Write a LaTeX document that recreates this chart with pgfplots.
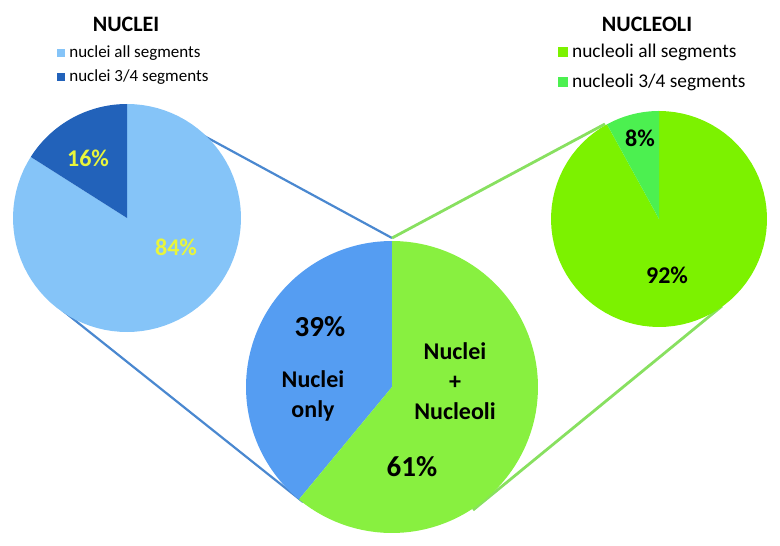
\documentclass[border=0pt]{standalone}
\usepackage{pgfplots}
\pgfplotsset{compat=1.18}
\usepackage{fontspec}
\setmainfont{Carlito}

\definecolor{nucall}{RGB}{133,196,248}
\definecolor{nucpart}{RGB}{34,98,186}
\definecolor{nuconly}{RGB}{85,157,242}
\definecolor{nolall}{RGB}{124,242,0}
\definecolor{nolpart}{RGB}{76,240,80}
\definecolor{both}{RGB}{136,240,64}
\definecolor{pctyellow}{RGB}{232,245,60}
\definecolor{blueline}{RGB}{74,136,208}
\definecolor{greenline}{RGB}{136,224,96}

% one canvas in pixel units, shared by the three overlaid axes
\pgfplotsset{pie canvas/.style={
  width=390pt, height=272.5pt, scale only axis,
  xmin=0, xmax=780, ymin=0, ymax=545, y dir=reverse,
  hide axis, clip=false,
  legend cell align=left,
}}

% \pieslice{cx}{cy}{r}{from %}{to %}{colour}, counter-clockwise from 12 o'clock
\newcommand\pieslice[6]{%
  \addplot[fill=#6, draw=none, domain={90+3.6*#4}:{90+3.6*#5}, samples=80]
    ({#1+#3*cos(x)}, {#2-#3*sin(x)}) -- (axis cs:#1,#2) -- cycle;}

\begin{document}
\begin{tikzpicture}
% left pie: nuclei
\begin{axis}[pie canvas,
  legend image code/.code={\fill[#1] (0pt,-2pt) rectangle (4pt,2pt);},
  legend style={at={(axis description cs:0.073,0.925)}, anchor=north west,
    draw=none, fill=none, inner sep=0pt, row sep=1pt,
    font=\fontsize{8.5}{10}\selectfont}]
  \path (rel axis cs:0,0) rectangle (rel axis cs:1,1);
  \addplot[blueline, line width=1.1pt, forget plot] coordinates {(195,131) (392,238)};
  \addplot[blueline, line width=1.1pt, forget plot] coordinates {(62,310) (303,502)};
  \addplot[greenline, line width=1.4pt, forget plot] coordinates {(392,238) (605,124)};
  \addplot[greenline, line width=1.4pt, forget plot] coordinates {(722,306) (473,510)};
  \pieslice{127}{218}{114}{16}{100}{nucall}
  \addlegendentry{nuclei all segments}
  \pieslice{127}{218}{114}{0}{16}{nucpart}
  \addlegendentry{nuclei 3/4 segments}
  \node[font=\bfseries\fontsize{11}{13}\selectfont] at (axis cs:126,24) {NUCLEI};
  \node[font=\bfseries\fontsize{12}{14}\selectfont, text=pctyellow] at (axis cs:88,158) {16\%};
  \node[font=\bfseries\fontsize{12}{14}\selectfont, text=pctyellow] at (axis cs:176,247) {84\%};
\end{axis}
% right pie: nucleoli
\begin{axis}[pie canvas,
  legend image code/.code={\fill[#1] (0pt,-2.5pt) rectangle (5pt,2.5pt);},
  legend style={at={(axis description cs:0.715,0.927)}, anchor=north west,
    draw=none, fill=none, inner sep=0pt, row sep=2.5pt,
    font=\fontsize{9.7}{11.5}\selectfont}]
  \pieslice{659}{219}{108}{8}{100}{nolall}
  \addlegendentry{nucleoli all segments}
  \pieslice{659}{219}{108}{0}{8}{nolpart}
  \addlegendentry{nucleoli 3/4 segments}
  \node[font=\bfseries\fontsize{11}{13}\selectfont] at (axis cs:647,24) {NUCLEOLI};
  \node[font=\bfseries\fontsize{12}{14}\selectfont] at (axis cs:640,138) {8\%};
  \node[font=\bfseries\fontsize{12}{14}\selectfont] at (axis cs:667,275) {92\%};
\end{axis}
% centre pie
\begin{axis}[pie canvas]
  \pieslice{392}{387}{146}{0}{39}{nuconly}
  \pieslice{392}{387}{146}{39}{100}{both}
  \node[font=\bfseries\fontsize{14.5}{17}\selectfont] at (axis cs:320,327) {39\%};
  \node[font=\bfseries\fontsize{14.5}{17}\selectfont] at (axis cs:412,467) {61\%};
  \node[font=\bfseries\fontsize{12}{15}\selectfont, align=center] at (axis cs:313,396) {Nuclei\\only};
  \node[font=\bfseries\fontsize{12}{15}\selectfont, align=center] at (axis cs:455,381) {Nuclei\\+\\Nucleoli};
\end{axis}
\end{tikzpicture}
\end{document}
